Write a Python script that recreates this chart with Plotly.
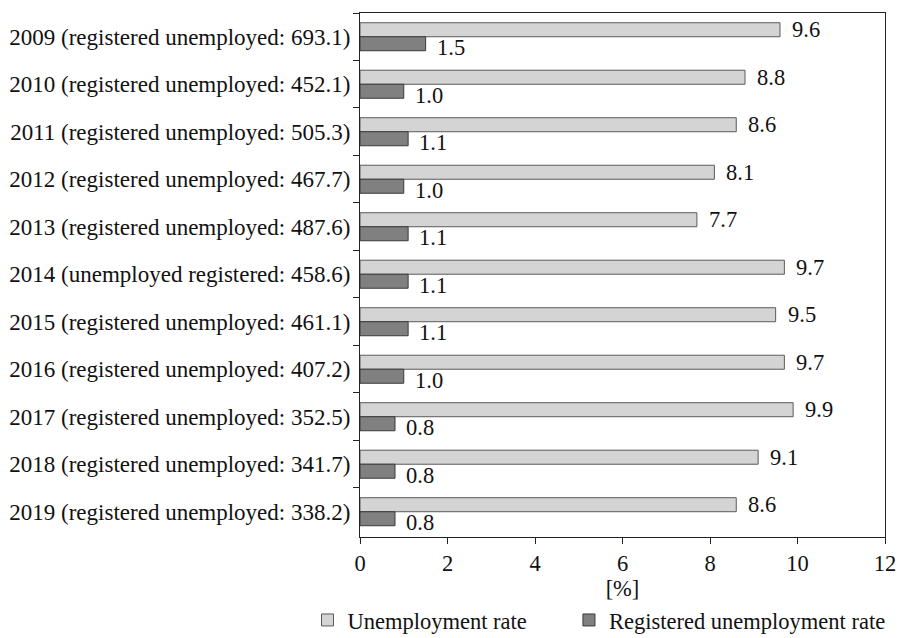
import plotly.graph_objects as go

# Years and the registered-unemployed counts shown in the category labels
categories = [
    "2009 (registered unemployed: 693.1)",
    "2010 (registered unemployed: 452.1)",
    "2011 (registered unemployed: 505.3)",
    "2012 (registered unemployed: 467.7)",
    "2013 (registered unemployed: 487.6)",
    "2014 (unemployed registered: 458.6)",
    "2015 (registered unemployed: 461.1)",
    "2016 (registered unemployed: 407.2)",
    "2017 (registered unemployed: 352.5)",
    "2018 (registered unemployed: 341.7)",
    "2019 (registered unemployed: 338.2)",
]
unemployment_rate = [9.6, 8.8, 8.6, 8.1, 7.7, 9.7, 9.5, 9.7, 9.9, 9.1, 8.6]
registered_rate = [1.5, 1.0, 1.1, 1.0, 1.1, 1.1, 1.1, 1.0, 0.8, 0.8, 0.8]
x_ticks = [0, 2, 4, 6, 8, 10, 12]

FONT = "Times New Roman"
FS = 22.5
LIGHT = "#d4d4d4"
DARK = "#808080"

fig = go.Figure()
fig.add_trace(go.Bar(
    y=categories, x=unemployment_rate, orientation="h",
    name="Unemployment rate", legend="legend",
    marker=dict(color=LIGHT, line=dict(color="#5a5a5a", width=1)),
))
fig.add_trace(go.Bar(
    y=categories, x=registered_rate, orientation="h",
    name="Registered unemployment rate", legend="legend2",
    marker=dict(color=DARK, line=dict(color="#3a3a3a", width=1)),
))

# Value labels placed just past the end of each bar
half = 0.147
annotations = []
for i, (u, r) in enumerate(zip(unemployment_rate, registered_rate)):
    annotations.append(dict(x=u, y=i - half, xref="x", yref="y",
                            text=f"{u:.1f}", showarrow=False,
                            xanchor="left", xshift=10,
                            font=dict(family=FONT, size=FS, color="#111")))
    annotations.append(dict(x=r, y=i + half + 0.08, xref="x", yref="y",
                            text=f"{r:.1f}", showarrow=False,
                            xanchor="left", xshift=9,
                            font=dict(family=FONT, size=FS, color="#111")))

legend_style = dict(orientation="h", xanchor="left", y=-0.118, yanchor="top",
                    font=dict(family=FONT, size=FS), itemclick=False,
                    bgcolor="rgba(0,0,0,0)")

fig.update_layout(
    width=900, height=638,
    margin=dict(l=360, r=15, t=13, b=101, autoexpand=False),
    paper_bgcolor="white", plot_bgcolor="white",
    barmode="group", bargap=0.41, bargroupgap=0,
    font=dict(family=FONT, size=FS, color="#111"),
    annotations=annotations,
    showlegend=True,
    legend=dict(x=-0.1, **legend_style),
    legend2=dict(x=0.398, **legend_style),
)
fig.update_xaxes(
    range=[0, 12], tickvals=x_ticks, ticktext=[str(v) for v in x_ticks],
    showgrid=False, zeroline=False,
    showline=True, linecolor="#222", linewidth=1, mirror=True,
    ticks="outside", ticklen=6, tickcolor="#222",
    tickfont=dict(family=FONT, size=FS),
    title=dict(text="[%]", font=dict(family=FONT, size=FS), standoff=4),
)
fig.update_yaxes(
    categoryorder="array", categoryarray=categories, autorange="reversed",
    showgrid=False, zeroline=False,
    showline=True, linecolor="#222", linewidth=1, mirror=True,
    ticks="outside", ticklen=6, tickcolor="#222", tickson="boundaries",
    tickfont=dict(family=FONT, size=23), ticklabelstandoff=4,
)

fig.write_html("out.html")
